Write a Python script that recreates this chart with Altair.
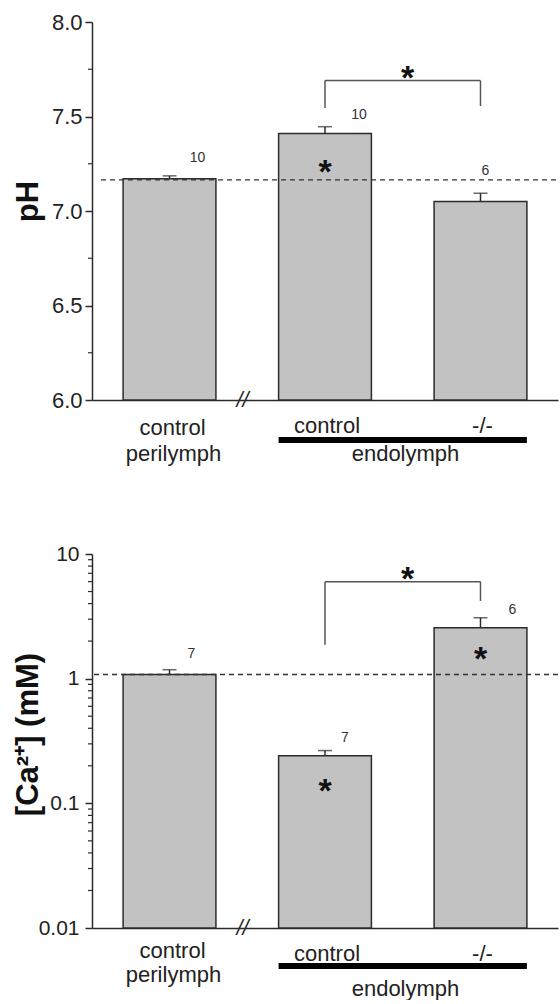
import altair as alt
import pandas as pd

FONT = "Liberation Sans"
INK = "#2b2b2b"

# ---- data ----
categories = ["control perilymph", "control", "-/-"]

ph_mean = [7.17, 7.41, 7.05]
ph_sem = [0.016, 0.036, 0.044]
ph_n = ["10", "10", "6"]
ph_control = 7.165
ph_ticks = [6.0, 6.5, 7.0, 7.5, 8.0]
ph_minor = [6.25, 6.75, 7.25, 7.75]
ph_bracket = [7.69, 7.545, 7.555]   # level, left leg end, right leg end

ca_mean = [1.08, 0.241, 2.56]
ca_sem = [0.10, 0.024, 0.52]
ca_n = ["7", "7", "6"]
ca_control = 1.08
ca_ticks = [0.01, 0.1, 1, 10]
ca_minor = [m * d for d in [0.01, 0.1, 1] for m in range(2, 10)]
ca_bracket = [6.0, 1.87, 4.2]

W = 466


def panel(mean, sem, n, control, ticks, minor, bracket, scale, dmin, height, axis_fmt,
          title, tick_font, lab_pad, lab_y, n_off, star_in, rule_y, endo_y,
          dash_x0, title_y):
    df = pd.DataFrame({"cat": categories, "y": mean,
                       "y2": [m + s for m, s in zip(mean, sem)], "n": n})
    xs = alt.Scale(domain=categories, paddingInner=0.403, paddingOuter=0.2)
    xaxis = alt.Axis(labels=False, ticks=False, title="", domainColor=INK,
                     domainWidth=1.5)
    yaxis = alt.Axis(title=title, values=ticks, format=axis_fmt, grid=False,
                     tickSize=7, tickWidth=1.5, tickColor=INK, domainColor=INK,
                     domainWidth=1.5, labelFont=FONT, labelFontSize=tick_font,
                     labelColor="#222", labelPadding=lab_pad,
                     titleFont=FONT, titleFontSize=31, titleFontWeight="bold",
                     titleColor="#111", titleAngle=270, titleX=-48,
                     titleY=title_y, titleBaseline="bottom", titleAlign="center")
    X = alt.X("cat:N", sort=categories, scale=xs, axis=xaxis)
    Y = alt.Y("y:Q", scale=scale, axis=yaxis)

    bars = alt.Chart(df).mark_bar(fill="#c2c2c2", stroke=INK, strokeWidth=1.5).encode(
        x=X, y=Y, y2=alt.datum(dmin))
    stem = alt.Chart(df).mark_rule(color=INK, strokeWidth=1.5).encode(x=X, y=Y, y2="y2:Q")
    cap = alt.Chart(df).mark_tick(color=INK, thickness=1.5, size=14, orient="horizontal").encode(
        x=X, y=alt.Y("y2:Q", scale=scale, axis=yaxis))

    minor_df = pd.DataFrame({"y": minor})
    minor_ticks = alt.Chart(minor_df).mark_rule(color=INK, strokeWidth=1.2).encode(
        x=alt.value(-4), x2=alt.value(0), y=Y)

    dash = alt.Chart(pd.DataFrame({"y": [control]})).mark_rule(
        color="#333", strokeWidth=1.3, strokeDash=[5, 4]).encode(
        x=alt.value(dash_x0), x2=alt.value(W), y=Y)

    layers = [bars, dash, stem, cap, minor_ticks]

    for i in range(3):
        ndf = pd.DataFrame({"cat": [categories[i]], "y": [mean[i] + sem[i]], "t": [n[i]]})
        layers.append(alt.Chart(ndf).mark_text(
            font=FONT, fontSize=14, color="#333", baseline="middle",
            dx=n_off[i][0], dy=n_off[i][1]).encode(x=X, y=Y, text="t:N"))

    for i, off in star_in:
        sdf = pd.DataFrame({"cat": [categories[i]], "y": [mean[i]], "t": ["*"]})
        layers.append(alt.Chart(sdf).mark_text(
            font=FONT, fontSize=34, fontWeight="bold", color="#111",
            baseline="alphabetic", dy=off + 20).encode(x=X, y=Y, text="t:N"))

    bdf = pd.DataFrame({"cat": ["control"], "cat2": ["-/-"], "y": [bracket[0]]})
    layers.append(alt.Chart(bdf).mark_rule(color="#555", strokeWidth=1.5).encode(
        x=X, x2="cat2:N", y=Y))
    ldf = pd.DataFrame({"cat": ["control", "-/-"], "y": [bracket[0], bracket[0]],
                        "y2": [bracket[1], bracket[2]]})
    layers.append(alt.Chart(ldf).mark_rule(color="#555", strokeWidth=1.5).encode(
        x=X, y=Y, y2="y2:Q"))
    sdf = pd.DataFrame({"cat": ["-/-"], "y": [bracket[0]], "t": ["*"]})
    layers.append(alt.Chart(sdf).mark_text(
        font=FONT, fontSize=34, fontWeight="bold", color="#111",
        baseline="alphabetic", dx=-73, dy=-12 + 20).encode(x=X, y=Y, text="t:N"))

    brk = pd.DataFrame({"cat": [categories[0]], "y": [dmin], "t": ["//"]})
    layers.append(alt.Chart(brk).mark_text(
        font=FONT, fontSize=22, fontStyle="italic", color=INK, baseline="middle",
        dx=73).encode(x=X, y=Y, text="t:N"))

    cat_rows = [("control perilymph", "control", lab_y[0], 3),
                ("control perilymph", "perilymph", lab_y[1], 4),
                ("control", "control", lab_y[2], 2),
                ("-/-", "-/-", lab_y[2], 2)]
    for c, t, yy, ddx in cat_rows:
        cdf = pd.DataFrame({"cat": [c], "t": [t]})
        layers.append(alt.Chart(cdf).mark_text(
            font=FONT, fontSize=22, color="#222", baseline="alphabetic", dx=ddx).encode(
            x=X, y=alt.value(yy), text="t:N"))

    edf = pd.DataFrame({"cat": ["control"], "cat2": ["-/-"]})
    layers.append(alt.Chart(edf).mark_rule(color="#000", strokeWidth=6).encode(
        x=alt.X("cat:N", sort=categories, scale=xs, axis=xaxis, bandPosition=0),
        x2=alt.X2("cat2:N", bandPosition=1), y=alt.value(rule_y)))
    tdf = pd.DataFrame({"cat": ["-/-"], "t": ["endolymph"]})
    layers.append(alt.Chart(tdf).mark_text(
        font=FONT, fontSize=22, color="#222", baseline="alphabetic", dx=-75).encode(
        x=X, y=alt.value(endo_y), text="t:N"))

    return alt.layer(*layers).properties(width=W, height=height)


top = panel(ph_mean, ph_sem, ph_n, ph_control, ph_ticks, ph_minor, ph_bracket,
            alt.Scale(domain=[6.0, 8.0], nice=False, zero=False), 6.0, 378, ".1f",
            "pH", 22, 3, (413, 439, 411),
            [(28, -18), (34, -12), (5, -22)], [(1, 29)], 418, 439, 9, 179)

bottom = panel(ca_mean, ca_sem, ca_n, ca_control, ca_ticks, ca_minor, ca_bracket,
               alt.Scale(type="log", domain=[0.01, 10], nice=False), 0.01, 374, "~g",
               "[Ca²⁺] (mM)", 21, 6, (404, 428, 407),
               [(22, -16), (20, -13), (32, -8)], [(1, 26), (2, 22)], 412, 442, 2, 180)

chart = alt.vconcat(top, bottom, spacing=78).properties(
    padding={"left": 12, "top": 11, "right": 0, "bottom": 0},
    background="white"
).configure_view(stroke=None)

chart.save("out.html", embed_options={"renderer": "svg", "actions": False})
